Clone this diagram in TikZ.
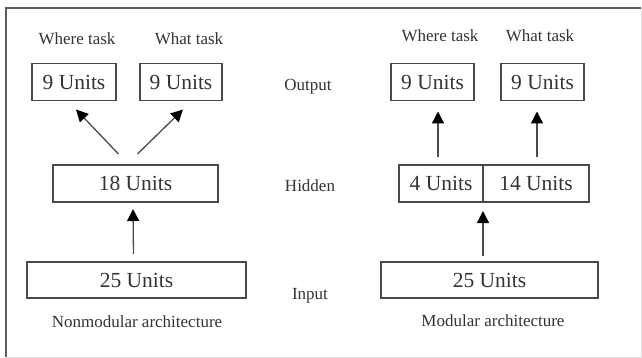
\documentclass[tikz,border=0pt]{standalone}
\usepackage{fontspec}
\setmainfont{Liberation Serif}
\usetikzlibrary{arrows.meta,positioning,calc}
\definecolor{lineGray}{HTML}{4A4A4A}
\definecolor{frameGray}{HTML}{5C5C5C}
\definecolor{textGray}{HTML}{333333}

\begin{document}
\begin{tikzpicture}[x=1pt,y=-1pt, >={Triangle[length=12pt,width=12pt,black]},
  unitbox/.style={draw=lineGray,line width=1.2pt,text=textGray,font=\fontsize{21.5}{23}\selectfont,inner sep=0pt,outer sep=0pt,minimum height=37pt},
  lbl/.style={text=textGray,font=\fontsize{17}{19}\selectfont,inner sep=0pt},
  link/.style={->,draw=lineGray,line width=1.3pt}]
  \useasboundingbox (0,0) rectangle (642,358);
  % frame
  \draw[gray!25,line width=1pt] (641,8) -- (641,357) -- (6,357);
  \draw[frameGray,line width=2.5pt] (6,357) -- (6,8) -- (641,8);
  % nonmodular
  \node[lbl] (whereLtxt) at (77,39) {Where task};
  \node[lbl] (whatLtxt) at (189,39) {What task};
  \node[unitbox,minimum width=84pt] (whereL) at (74,82) {9 Units};
  \node[unitbox,minimum width=82pt] (whatL) at (181,82) {9 Units};
  \node[unitbox,minimum width=165pt] (hidL) at (135.5,183.5) {18 Units};
  \node[unitbox,minimum width=219pt,minimum height=36pt] (inL) at (136.5,280) {25 Units};
  \node[lbl] (nonmod) at (137,322) {Nonmodular architecture};
  \draw[link] ([xshift=-17pt,yshift=11pt]hidL.north) -- ([xshift=2pt,yshift=-9pt]whereL.south);
  \draw[link] ([xshift=2pt,yshift=11pt]hidL.north) -- ([xshift=2pt,yshift=-9pt]whatL.south);
  \draw[link] ([xshift=-3pt,yshift=8pt]inL.north) -- ([xshift=-2.5pt,yshift=-7pt]hidL.south);
  % layer names
  \node[lbl] (outtxt) at (308,87) {Output};
  \node[lbl] (hidtxt) at (310,186) {Hidden};
  \node[lbl] (intxt) at (310,296) {Input};
  % modular
  \node[lbl] (whereRtxt) at (440,36) {Where task};
  \node[lbl] (whatRtxt) at (540,36) {What task};
  \node[unitbox,minimum width=83pt] (whereR) at (432.5,82) {9 Units};
  \node[unitbox,minimum width=83pt] (whatR) at (542.5,82) {9 Units};
  \node[unitbox,minimum width=84pt] (hid4) at (441,183.5) {4 Units};
  \node[unitbox,minimum width=106pt,right=0pt of hid4] (hid14) {14 Units};
  \node[unitbox,minimum width=217pt,minimum height=36pt] (inR) at (489.5,280) {25 Units};
  \node[lbl] (mod) at (493,321) {Modular architecture};
  \draw[link] ([xshift=-3pt,yshift=8pt]hid4.north) -- ([xshift=5.5pt,yshift=-11pt]whereR.south);
  \draw[link] ([xshift=1pt,yshift=8pt]hid14.north) -- ([xshift=-5.5pt,yshift=-11pt]whatR.south);
  \draw[link] ([xshift=-6.5pt,yshift=6pt]inR.north) -- ([yshift=-9pt]hid4.south east);
\end{tikzpicture}
\end{document}
